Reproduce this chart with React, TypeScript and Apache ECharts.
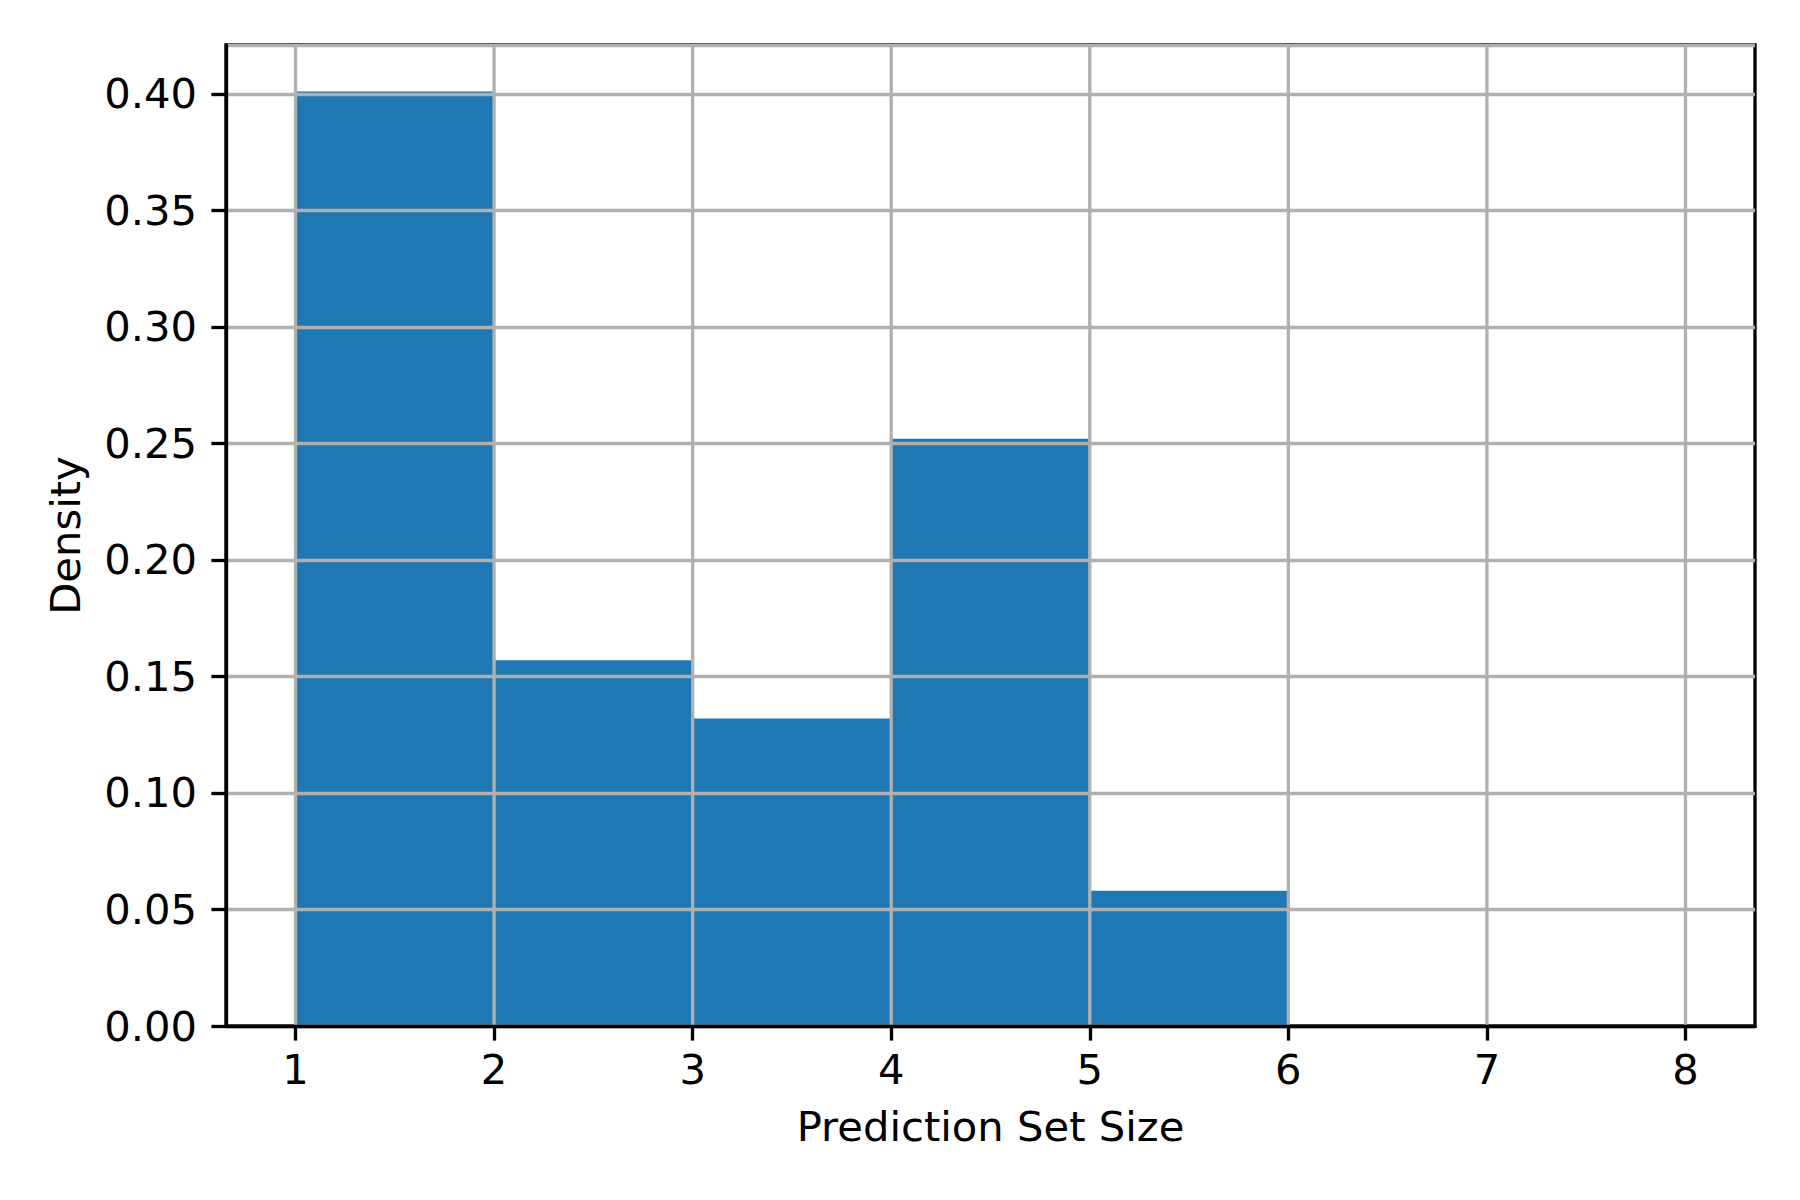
import React, { useEffect, useRef } from "react";
import * as echarts from "echarts";

const binEdges = [1, 2, 3, 4, 5, 6, 7, 8];
const densities = [0.401, 0.157, 0.132, 0.252, 0.058, 0, 0];
const xTicks = [1, 2, 3, 4, 5, 6, 7, 8];
const xMin = 0.65;
const xMax = 8.35;
const yMax = 0.421;
const xTitle = "Prediction Set Size";
const yTitle = "Density";

const FONT = "DejaVu Sans";
const LW = 3.33;

export default function App() {
  const ref = useRef<HTMLDivElement>(null);
  useEffect(() => {
    if (!ref.current) return;
    const chart = echarts.init(ref.current, null, { renderer: "svg" });
    const barData = densities.map((d, i) => [binEdges[i], binEdges[i + 1], d]);
    chart.setOption({
      animation: false,
      backgroundColor: "#ffffff",
      grid: {
        left: 226,
        right: 45,
        top: 45,
        bottom: 174,
        show: true,
        borderColor: "#000000",
        borderWidth: LW,
        backgroundColor: "transparent",
      },
      xAxis: {
        type: "value",
        min: xMin,
        max: xMax,
        z: 5,
        name: xTitle,
        nameLocation: "middle",
        nameGap: 79,
        nameTextStyle: { fontFamily: FONT, fontSize: 41.7, color: "#000" },
        axisLine: { show: true, onZero: false, lineStyle: { color: "#000", width: LW } },
        axisTick: { show: true, customValues: xTicks, length: 14.6, lineStyle: { color: "#000", width: LW } },
        axisLabel: {
          customValues: xTicks,
          margin: 22,
          fontFamily: FONT,
          fontSize: 41.7,
          color: "#000",
          formatter: (v: number) => String(v),
        },
        splitLine: { show: false },
      },
      yAxis: {
        type: "value",
        min: 0,
        max: yMax,
        interval: 0.05,
        z: 5,
        name: yTitle,
        nameLocation: "middle",
        nameGap: 140,
        nameRotate: 90,
        nameTextStyle: { fontFamily: FONT, fontSize: 41.7, color: "#000" },
        axisLine: { show: true, lineStyle: { color: "#000", width: LW } },
        axisTick: { show: true, length: 14.6, lineStyle: { color: "#000", width: LW } },
        axisLabel: {
          margin: 29,
          fontFamily: FONT,
          fontSize: 41.7,
          color: "#000",
          formatter: (v: number) => v.toFixed(2),
          showMaxLabel: false,
        },
        splitLine: { show: true, lineStyle: { color: "#b0b0b0", width: LW } },
      },
      series: [
        {
          type: "custom",
          z: 2,
          data: barData,
          renderItem: (params: any, api: any) => {
            const x0 = api.value(0);
            const x1 = api.value(1);
            const y = api.value(2);
            if (!(y > 0)) return null;
            const p0 = api.coord([x0, y]);
            const p1 = api.coord([x1, 0]);
            return {
              type: "rect",
              shape: { x: p0[0], y: p0[1], width: p1[0] - p0[0], height: p1[1] - p0[1] },
              style: { fill: "#1f77b4" },
            };
          },
        },
        {
          type: "custom",
          z: 3,
          data: xTicks.map((v) => [v]),
          renderItem: (params: any, api: any) => {
            const v = api.value(0);
            const a = api.coord([v, 0]);
            const b = api.coord([v, yMax]);
            return {
              type: "line",
              shape: { x1: a[0], y1: a[1], x2: b[0], y2: b[1] },
              style: { stroke: "#b0b0b0", lineWidth: LW },
            };
          },
        },
      ],
    });
    return () => chart.dispose();
  }, []);
  return (
    <div
      ref={ref}
      style={{ position: "fixed", left: 0, top: 0, width: 1800, height: 1200, background: "#fff" }}
    />
  );
}
